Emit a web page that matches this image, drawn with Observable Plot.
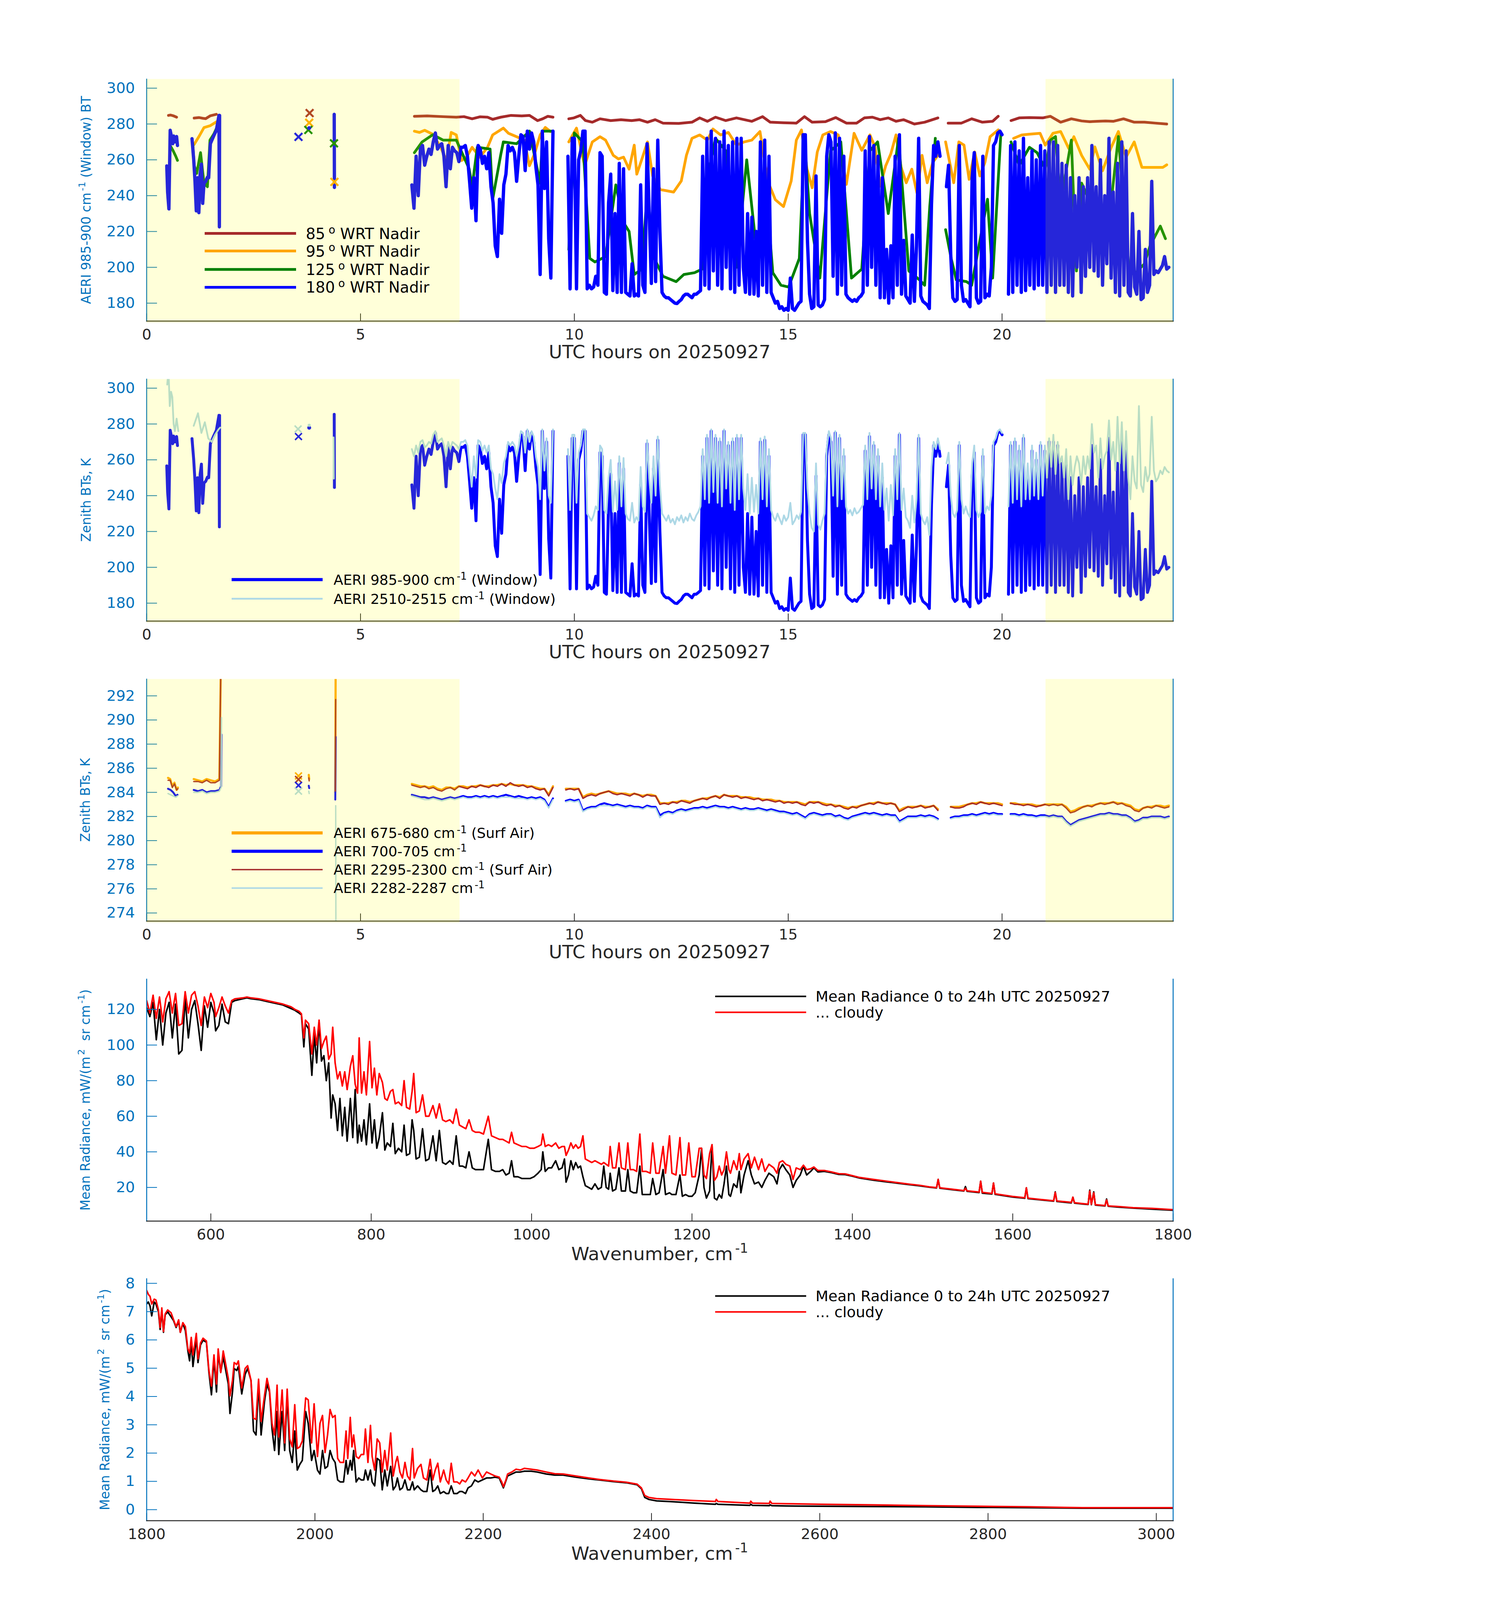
<!DOCTYPE html>
<html><head><meta charset="utf-8">
<script src="https://cdn.jsdelivr.net/npm/d3@7"></script>
<script src="https://cdn.jsdelivr.net/npm/@observablehq/plot@0.6"></script>
<style>
html,body{margin:0;padding:0;background:#fff;overflow:hidden;}
#wrap{position:relative;width:3825px;height:4096px;background:#fff;overflow:hidden;}
</style></head><body><div id="wrap"></div>
<script>
// ---------------- tick labels / domains ----------------
const hourTicks = [0, 5, 10, 15, 20];
const btTicks = [180, 200, 220, 240, 260, 280, 300];
const surfTicks = [274, 276, 278, 280, 282, 284, 286, 288, 290, 292];
const radTicksA = [20, 40, 60, 80, 100, 120];
const wnTicksA = [600, 800, 1000, 1200, 1400, 1600, 1800];
const radTicksB = [0, 1, 2, 3, 4, 5, 6, 7, 8];
const wnTicksB = [1800, 2000, 2200, 2400, 2600, 2800, 3000];
const nightShade = [{start: 0, end: 7.32}, {start: 21.02, end: 24}];

// ---------------- Panel 1: off-zenith views (hour, K) ----------------
const brown85 = [[0.51,284.8],[0.56,285.0],[0.62,284.6],[0.70,283.8],[null],
 [1.11,283.3],[1.22,283.6],[1.31,283.2],[1.38,283.0],[1.49,284.6],[1.63,285.4],[null],
 [6.26,284.3],[6.56,284.5],[6.93,284.1],[7.24,283.8],[7.42,284.1],[7.61,282.9],[7.79,284.0],[7.97,283.8],[8.09,282.6],[8.28,283.8],[8.52,284.8],[8.77,284.5],[8.95,284.8],[9.14,281.9],[9.26,282.9],[9.38,284.3],[9.50,283.8],[null],
 [9.87,282.9],[9.99,283.4],[10.14,284.8],[10.26,281.9],[10.42,281.0],[10.60,282.9],[10.85,281.9],[11.09,282.4],[11.34,281.9],[11.52,282.4],[11.71,281.0],[11.89,282.4],[12.07,280.5],[12.44,280.3],[12.75,281.0],[12.93,283.4],[13.11,281.5],[13.30,283.8],[13.54,281.9],[13.79,283.4],[14.15,281.5],[14.40,284.1],[14.58,281.0],[14.89,280.7],[15.19,280.5],[15.38,284.1],[15.56,281.0],[15.87,281.3],[16.11,283.6],[16.36,280.5],[16.60,280.5],[16.78,283.4],[16.97,283.8],[17.15,282.4],[17.34,283.4],[17.52,281.5],[17.70,282.4],[17.95,280.0],[18.19,281.0],[18.50,283.4],[null],
 [18.74,280.5],[19.05,280.5],[19.29,282.9],[19.54,281.0],[19.78,281.5],[19.91,284.3],[null],
 [20.21,281.9],[20.40,283.4],[20.64,283.6],[20.95,283.4],[21.13,284.3],[21.37,281.0],[21.62,282.9],[21.86,281.7],[22.05,281.3],[22.23,281.5],[22.42,281.7],[22.60,281.5],[22.84,282.9],[23.09,281.0],[23.33,281.0],[23.58,280.5],[23.85,280.0]];
const orange95 = [[1.11,268.6],[1.23,273.3],[1.34,278.0],[1.49,279.1],[1.63,281.2],[null],
 [6.26,276.0],[6.38,275.3],[6.50,276.5],[6.69,274.3],[6.87,267.2],[7.01,259.6],[7.12,275.3],[7.24,273.9],[7.36,259.6],[7.48,261.5],[7.61,267.0],[7.79,261.5],[7.97,267.0],[8.09,273.9],[8.34,277.7],[8.46,274.8],[8.65,272.9],[8.83,271.0],[8.95,256.7],[9.07,263.4],[9.20,273.9],[9.32,278.1],[9.44,275.8],[null],
 [9.87,270.0],[10.05,277.7],[10.24,256.7],[10.42,270.0],[10.60,272.9],[10.73,271.0],[10.91,262.5],[11.03,260.5],[11.15,261.5],[11.28,254.8],[11.40,268.2],[11.46,252.0],[11.58,260.5],[11.71,270.0],[11.83,251.0],[12.01,243.4],[12.32,242.0],[12.50,248.2],[12.62,262.5],[12.75,272.0],[12.93,273.9],[13.11,271.0],[13.24,277.2],[13.42,273.9],[13.60,275.3],[13.79,268.2],[13.97,270.0],[14.15,271.0],[14.34,275.8],[14.52,248.2],[14.70,237.7],[14.89,233.9],[15.07,248.2],[15.19,271.0],[15.31,276.7],[15.44,254.8],[15.56,244.4],[15.68,264.4],[15.81,273.9],[15.99,275.8],[16.17,273.9],[16.36,246.3],[16.54,274.8],[16.72,265.3],[16.91,273.9],[17.03,267.2],[17.15,245.3],[17.28,256.7],[17.40,263.4],[17.52,273.9],[17.64,255.8],[17.76,247.2],[17.89,254.8],[18.01,241.5],[18.13,262.5],[18.25,247.2],[18.38,258.6],[18.50,262.5],[null],
 [18.68,270.0],[18.87,247.2],[18.99,270.0],[19.11,268.2],[19.23,249.1],[19.36,264.4],[19.48,251.0],[19.60,258.6],[19.72,272.9],[19.91,276.7],[null],
 [20.27,272.0],[20.46,273.9],[20.64,274.3],[20.89,274.8],[21.01,268.2],[21.19,274.8],[21.37,275.8],[21.56,266.3],[21.68,272.9],[21.86,262.5],[22.05,254.8],[22.17,267.2],[22.35,253.9],[22.54,266.3],[22.72,275.8],[22.90,261.5],[23.09,270.0],[23.27,255.8],[23.39,255.8],[23.58,255.8],[23.76,255.8],[23.85,257.2]];
const green125 = [[0.55,268],[0.62,265],[0.68,262],[0.72,259.7],[null],
 [1.08,269],[1.11,257],[1.17,252.4],[1.26,264],[1.34,247],[1.42,245],[1.48,271],[1.57,274.4],[1.63,277.5],[null],
 [6.26,264],[6.44,270],[6.69,274],[6.93,271],[7.24,271],[7.54,255],[7.61,245],[7.73,267],[8.03,266],[8.09,238],[8.28,263],[8.34,270],[8.65,269],[8.95,276],[9.14,254],[9.20,247],[9.26,276],[9.50,276],[null],
 [9.87,210],[10.00,275],[10.20,270],[10.36,205],[10.48,203],[10.73,206],[10.97,246],[11.15,225],[11.28,220],[11.40,196],[11.58,199],[11.71,245],[11.83,207],[12.07,195],[12.38,192],[12.56,196],[12.81,197],[12.99,199],[13.11,250],[13.30,272],[13.54,265],[13.79,200],[14.03,260],[14.28,205],[14.46,250],[14.64,197],[14.83,190],[15.01,189],[15.26,205],[15.38,272],[15.50,230],[15.74,194],[15.99,265],[16.23,270],[16.48,194],[16.72,199],[16.91,265],[17.09,270],[17.34,230],[17.58,272],[17.82,198],[18.07,193],[18.19,190],[18.31,234],[18.44,272],[null],
 [18.68,221],[18.81,205],[18.93,193],[19.17,192],[19.29,190],[19.66,238],[19.78,194],[19.97,274],[null],
 [20.21,270],[20.40,257],[20.64,267],[20.82,264],[21.01,255],[21.13,271],[21.25,273],[21.37,236],[21.62,271],[21.74,198],[21.86,247],[21.99,240],[22.23,217],[22.35,218],[22.48,221],[22.72,273],[22.84,236],[22.97,198],[23.09,196],[23.33,202],[23.46,212],[23.70,223],[23.82,216]];
const blue180Early = [[0.47,256.6],[0.49,242],[0.52,232.6],[0.55,276.5],[0.58,273],[0.61,269],[0.63,273.3],[0.66,270],[0.70,273],[0.72,268],[null],
 [1.06,271.8],[1.10,260],[1.13,248],[1.16,231.5],[1.19,250],[1.22,230.5],[1.25,252],[1.28,257.6],[1.31,235.7],[1.34,247],[1.38,248],[1.42,250.3],[1.45,250],[1.49,269],[1.57,273.5],[1.63,276.5],[1.69,284.8],[1.70,222.6],[1.705,284.8],[null],
 [4.385,285.4],[4.39,244.6]];
// 985-900 cm-1 window (zenith) every 0.05 h from 6.20 h
const zenithStart = 6.2, zenithStep = 0.05;
const blue180 = [
 246,233,262,240,266,268,257,262,266,263,270,275,266,268,269,262,
 245,268,255,267,265,264,259,267,267,268,262,248,233,250,226,268,266,258,262,255,
 264,245,236,212,206,238,219,246,252,268,265,267,264,248,262,274,273,254,276,266,
 275,270,256,246,196,276,244,270,216,194,276,null,null,null,null,null,null,262,188,272,
 272,188,260,265,276,276,188,190,188,189,195,190,264,262,186,185,236,252,187,230,
 186,258,186,255,186,185,184,202,184,185,184,246,190,186,269,230,191,255,192,271,
 220,186,184,183,183,182,181,180,179.8,181,182,184,185,185,184,183,185,185,186,187,
 262,190,272,188,276,198,272,190,270,188,276,200,268,188,270,186,272,190,272,200,
 186,230,185,228,185,220,184,270,190,271,186,262,186,183,180,181,177,178,176,177,
 176,194,177,176,178,180,181,274,274,215,185,177,178,251,179,178,179,182,262,274,
 270,195,275,185,272,190,262,185,183,182,181,182,181,183,184,186,265,190,273,200,
 268,190,262,183,250,183,210,180,212,183,262,190,274,185,215,184,182,180,218,181,
 212,272,184,181,180,179,177,235,268,262,270,262,null,null,245,257,207,183,181,182,
 268,190,181,182,180,178,250,264,183,180,181,262,183,185,184,200,268,270,275,276,
 274,null,null,185,268,186,270,190,265,186,272,187,250,190,265,188,260,190,268,190,
 265,186,270,190,270,186,268,190,258,190,257,186,250,184,240,200,250,186,245,195,
 250,200,268,198,245,195,260,190,240,202,272,194,242,186,258,184,270,190,265,186,
 184,230,189,185,220,182,183,210,186,190,248,196,198,197,199,201,206,199,200];
const marks85 = [[3.81,286.1]];
const marks95 = [[3.80,280.7],[4.39,247.7]];
const marks125 = [[3.78,276.7],[4.38,269.2]];
const marks180x = [[3.55,272.8]];
const marks180dot = [[3.80,277.7]];

// ---------------- Panel 2: 2510-2515 cm-1 window ----------------
const lb2510Early = [[0.48,302],[0.51,310],[0.54,290],[0.57,298],[0.60,295],[0.63,280],[0.66,276],[0.70,283],[0.74,276],[null],
 [1.10,279],[1.20,286],[1.28,275],[1.36,281],[1.44,272],[1.52,270],[1.60,274],[1.68,277],[1.72,278],[null],
 [4.37,272.5],[4.375,249.5]];
const lb2510 = [
 266,262,268,264,270,271,267,268,270,269,274,276,270,271,272,268,
 262,270,266,270,269,268,266,270,270,271,268,256,245,262,250,271,270,265,268,264,
 268,255,252,244,238,252,247,258,262,270,268,270,268,262,268,276,275,264,277,270,
 276,273,262,256,238,277,254,272,240,236,277,null,null,null,null,null,null,266,232,274,
 274,236,264,268,277,277,230,228,226,229,234,232,268,266,232,230,250,260,231,248,
 232,262,234,261,230,227,226,236,225,228,226,256,234,231,271,250,236,262,240,273,
 246,230,228,226,229,225,227,224,228,226,229,225,228,226,230,227,226,229,231,234,
 266,238,274,236,277,242,274,236,272,234,277,244,270,236,272,232,274,238,274,244,
 232,252,230,250,231,246,230,272,238,273,234,266,232,228,226,230,227,224,229,226,
 228,236,224,226,229,227,231,275,275,244,230,222,220,258,224,221,226,230,266,276,
 272,240,276,234,274,238,266,234,230,232,229,233,230,231,233,235,268,238,275,244,
 270,238,266,234,258,232,244,226,246,229,266,238,275,232,244,228,226,222,240,225,
 238,274,230,226,224,228,218,256,270,266,272,266,null,null,258,264,240,230,228,232,
 270,238,230,234,230,228,258,268,232,228,231,266,230,234,232,240,270,272,276,277,
 275,null,null,234,270,236,272,238,268,234,274,238,258,238,268,240,264,238,270,240,
 268,250,272,256,274,252,270,258,262,250,266,238,262,246,256,262,258,246,262,252,
 262,255,280,264,268,250,272,255,262,265,282,260,270,254,284,258,281,254,276,250,
 238,262,248,244,290,246,242,256,248,252,284,254,248,250,254,252,256,254,253];
const marks2x = [[3.55,273.0]];
const marks2lbx = [[3.54,277.2]];
const marks2dot = [[3.80,277.9]];
const marks2lbdot = [[3.80,279.3]];

// ---------------- Panel 3: surface-air channels, every 0.1 h from 6.2 h ----------------
const surfStart = 6.2, surfStep = 0.1;
const orange675Early = [[0.50,285.2],[0.55,285.1],[0.60,284.5],[0.65,284.8],[0.70,284.2],[0.73,284.4],[null],
 [1.1,285.1],[1.2,285.0],[1.3,284.9],[1.4,285.1],[1.5,285.0],[1.6,284.9],[1.7,285.1],[1.74,296],[null],
 [3.79,285.45],[3.80,285.1],[null],[4.41,284.0],[4.42,296]];
const orange675 = [284.7,284.6,284.5,284.5,284.4,284.5,284.3,284.2,
 284.4,284.4,284.3,284.5,284.5,284.4,284.5,284.5,284.6,284.5,
 284.5,284.6,284.6,284.7,284.6,284.7,284.6,284.6,284.6,284.5,
 284.5,284.4,284.3,284.3,283.8,284.5,null,null,284.3,284.3,
 284.3,284.3,283.6,283.8,283.9,283.8,283.9,284.0,284.1,284.0,
 283.9,283.9,283.9,283.8,283.9,283.8,283.7,283.8,283.8,283.7,
 283.1,283.1,283.1,283.2,283.2,283.3,283.3,283.2,283.3,283.4,
 283.5,283.5,283.6,283.7,283.6,283.8,283.7,283.7,283.7,283.6,
 283.6,283.6,283.5,283.5,283.4,283.4,283.4,283.3,283.3,283.2,
 283.2,283.2,283.2,283.1,283.0,283.2,283.2,283.2,283.1,283.0,
 283.0,282.9,282.9,282.8,282.7,282.8,282.8,282.9,283.0,283.1,
 283.1,283.2,283.1,283.1,283.1,283.0,282.5,282.7,282.8,282.8,
 282.8,282.9,282.8,282.8,282.9,282.6,null,null,282.8,282.8,
 282.8,282.9,283.0,283.1,283.1,283.2,283.1,283.1,283.1,283.1,
 283.0,null,283.1,283.1,283.0,283.0,283.0,283.0,282.9,282.9,
 283.0,283.0,283.0,283.0,283.0,282.8,282.4,282.5,282.7,282.8,
 282.9,282.9,283.0,283.1,283.1,283.1,283.2,283.1,283.1,283.0,
 282.9,282.6,282.5,282.7,282.8,282.8,282.9,282.9,282.8,282.9];
const blue700Early = [[0.50,284.3],[0.56,284.2],[0.62,284.0],[0.68,283.7],[0.72,283.8],[null],
 [1.1,284.2],[1.2,284.1],[1.3,284.2],[1.4,284.0],[1.5,284.1],[1.6,284.1],[1.7,284.2],[1.74,284.5],[1.75,288.8],[null],
 [3.79,284.55],[3.80,284.35],[null],[4.41,283.4],[4.42,288.6]];
const blue700 = [283.8,283.7,283.6,283.6,283.5,283.6,283.5,283.4,
 283.5,283.6,283.5,283.6,283.7,283.6,283.6,283.7,283.6,283.7,
 283.6,283.7,283.6,283.7,283.8,283.7,283.6,283.7,283.6,283.5,
 283.6,283.5,283.6,283.4,282.8,283.5,null,null,283.3,283.4,
 283.3,283.4,282.5,282.7,282.8,282.8,283.0,283.1,283.0,282.9,
 283.0,282.9,282.8,282.9,282.8,282.8,282.7,282.9,282.8,282.8,
 282.1,282.3,282.4,282.3,282.5,282.6,282.5,282.6,282.7,282.7,
 282.8,282.7,282.8,282.9,282.8,282.8,282.7,282.8,282.7,282.6,
 282.7,282.6,282.6,282.7,282.6,282.5,282.6,282.5,282.4,282.4,
 282.3,282.2,282.3,282.1,281.9,282.2,282.3,282.2,282.1,282.2,
 282.2,282.0,282.1,281.9,281.8,282.0,282.1,282.2,282.3,282.2,
 282.3,282.2,282.1,282.2,282.1,282.1,281.6,281.8,282.0,282.0,
 282.0,282.1,282.0,282.1,282.0,281.8,null,null,281.9,282.0,
 282.0,282.1,282.1,282.2,282.1,282.2,282.3,282.2,282.3,282.2,
 282.2,null,282.2,282.2,282.1,282.2,282.1,282.1,282.0,282.1,
 282.1,282.0,282.1,282.0,282.0,281.6,281.3,281.5,281.7,281.8,
 281.9,282.0,282.1,282.2,282.2,282.3,282.2,282.2,282.1,282.1,
 281.9,281.6,281.7,281.9,281.9,282.0,282.0,282.0,281.9,282.0];
const brown2295Early = [[0.50,285.0],[0.55,285.0],[0.60,284.4],[0.65,284.7],[0.70,284.2],[0.73,284.3],[null],
 [1.1,284.9],[1.2,284.9],[1.3,284.8],[1.4,285.0],[1.5,284.8],[1.6,284.8],[1.7,285.0],[1.74,296],[null],
 [3.79,285.2],[3.80,284.95],[null],[4.41,284.1],[4.42,291.7]];
const brown2295 = [284.6,284.5,284.4,284.5,284.3,284.4,284.2,284.1,
 284.3,284.4,284.2,284.5,284.4,284.3,284.5,284.4,284.6,284.5,
 284.4,284.6,284.5,284.7,284.5,284.8,284.6,284.5,284.6,284.4,
 284.5,284.3,284.2,284.3,283.7,284.4,null,null,284.2,284.3,
 284.2,284.3,283.5,283.7,283.8,283.7,283.9,284.0,284.1,283.9,
 283.8,283.9,283.8,283.7,283.9,283.8,283.6,283.8,283.7,283.7,
 283.0,283.1,283.0,283.2,283.1,283.3,283.2,283.1,283.3,283.4,
 283.5,283.4,283.6,283.7,283.5,283.8,283.7,283.6,283.7,283.5,
 283.6,283.5,283.4,283.5,283.3,283.4,283.3,283.2,283.3,283.1,
 283.2,283.1,283.2,283.0,282.9,283.2,283.1,283.2,283.0,282.9,
 283.0,282.8,282.9,282.7,282.6,282.8,282.7,282.9,283.0,283.1,
 283.0,283.2,283.1,283.0,283.1,283.0,282.4,282.6,282.8,282.7,
 282.8,282.9,282.7,282.8,282.9,282.5,null,null,282.8,282.7,
 282.7,282.8,283.0,283.1,283.0,283.2,283.1,283.0,283.1,283.0,
 282.9,null,283.1,283.0,283.0,282.9,283.0,282.9,282.8,282.9,
 283.0,282.9,283.0,282.9,283.0,282.7,282.3,282.4,282.6,282.8,
 282.9,282.8,283.0,283.1,283.0,283.1,283.2,283.0,283.1,282.9,
 282.8,282.5,282.4,282.7,282.8,282.7,282.9,282.8,282.7,282.8];
const lb2282Early = [[0.50,283.9],[0.56,283.8],[0.62,283.7],[0.68,283.6],[0.72,283.7],[null],
 [1.1,284.0],[1.2,284.0],[1.3,284.1],[1.4,283.9],[1.5,284.0],[1.6,284.0],[1.7,284.1],[1.74,284.4],[1.75,290.2],[null],
 [3.79,284.1],[3.80,283.9],[null],[4.42,282.9],[4.425,272]];
const lb2282 = [283.7,283.6,283.5,283.4,283.4,283.5,283.4,283.3,
 283.4,283.5,283.4,283.5,283.6,283.5,283.5,283.6,283.5,283.6,
 283.5,283.6,283.5,283.6,283.6,283.6,283.5,283.5,283.5,283.4,
 283.5,283.4,283.5,283.3,282.7,283.4,null,null,283.2,283.3,
 283.2,283.3,282.4,282.6,282.7,282.7,282.9,282.9,282.9,282.8,
 282.9,282.8,282.7,282.8,282.7,282.7,282.6,282.8,282.7,282.7,
 281.9,282.2,282.3,282.2,282.4,282.5,282.4,282.5,282.6,282.6,
 282.7,282.6,282.7,282.8,282.7,282.7,282.6,282.7,282.6,282.5,
 282.6,282.5,282.5,282.6,282.5,282.4,282.5,282.4,282.3,282.3,
 282.2,282.1,282.2,282.0,281.8,282.1,282.2,282.1,282.0,282.1,
 282.1,281.9,282.0,281.8,281.7,281.9,282.0,282.1,282.2,282.1,
 282.2,282.1,282.0,282.1,282.0,282.0,281.5,281.7,281.9,281.9,
 281.9,282.0,281.9,282.0,281.9,281.7,null,null,281.8,281.9,
 281.9,282.0,282.0,282.1,282.0,282.1,282.2,282.1,282.2,282.1,
 282.1,null,282.1,282.1,282.0,282.1,282.0,282.0,281.9,282.0,
 282.0,281.9,282.0,281.9,281.9,281.5,281.2,281.4,281.6,281.7,
 281.8,281.9,282.0,282.1,282.1,282.2,282.1,282.1,282.0,282.0,
 281.8,281.5,281.6,281.8,281.8,281.9,281.9,281.9,281.8,281.9];
const marks3orange = [[3.55,285.36]];
const marks3brown = [[3.55,285.07]];
const marks3blue = [[3.55,284.58]];
const marks3lb = [[3.55,284.1]];

// ---------------- Panel 4: mean radiance 520-1800 cm-1 ----------------
const wnA = [520,524,528,532,536,540,544,548,552,556,560,564,568,572,576,580,584,588,592,596,600,604,606,610,614,618,622,626,630,640,645,650,660,670,680,690,700,705,710,713,716,718,722,726,729,732,735,738,741,744,747,750,752,755,758,761,764,767,770,774,777,780,783,785,788,791,794,798,801,804,807,810,814,817,820,824,827,830,834,838,841,844,848,851,853,856,860,864,868,872,877,881,885,889,893,898,902,906,910,914,918,922,926,930,935,940,946,950,955,960,964,968,972,975,978,983,988,993,998,1003,1008,1012,1014,1017,1021,1025,1030,1034,1038,1041,1043,1046,1049,1052,1055,1058,1061,1064,1067,1071,1075,1079,1083,1087,1090,1093,1096,1098,1101,1105,1109,1112,1117,1120,1123,1127,1131,1135,1138,1143,1148,1151,1155,1159,1164,1167,1172,1175,1180,1185,1188,1192,1196,1200,1204,1209,1212,1215,1218,1222,1225,1228,1231,1234,1237,1240,1243,1246,1248,1252,1256,1259,1261,1265,1270,1274,1278,1283,1287,1291,1296,1302,1306,1309,1313,1317,1322,1326,1330,1335,1339,1343,1348,1352,1357,1365,1374,1383,1391,1400,1409,1426,1443,1456,1470,1484,1496,1505,1507,1509,1525,1539,1541,1543,1558,1560,1562,1574,1576,1578,1600,1615,1617,1619,1635,1651,1653,1655,1673,1675,1677,1687,1694,1696,1698,1701,1703,1715,1717,1719,1730,1750,1774,1800];
const meanA = [121,116,124,103,120,100,118,124,104,123,95,97,126,104,120,125,112,97,122,110,124,118,108,111,123,113,112,124,125,126,126.5,126,125.5,124.5,123.5,122.5,120.5,119.5,118,117,99,112,109,83,106,90,113,91,94,80,90,59,72,67,52,70,49,65,46,70,48,75,45,55,46,58,44,67,45,58,42,48,62,41,45,43,56,39,42,40,55,38,39,58,52,36,37,53,35,36,49,35,52,34,33,35,33,49,32,32,31,40,31,30,30,30,47,30,29,29,30,27,28,35,26,26,25,25,25,26,28,30,40,29,31,31,35,30,31,36,23,27,35,30,34,31,32,26,21,20,19,22,19,20,32,20,19,28,18,19,31,18,18,30,18,17,17,32,16,16,16,25,16,17,30,16,17,16,16,27,15,16,15,15,17,27,42,20,14,18,44,14,13,16,14,22,32,16,15,22,20,29,17,27,35,27,22,23,20,24,28,26,22,30,33,30,27,20,24,27,32,27,29,31,28.7,29,28.3,27.3,27.2,26.3,25.3,24.1,23.1,22.4,21.6,20.9,20.1,19.7,24.5,19.6,18.7,18.0,20.5,17.8,17.1,23.5,16.8,16.3,22.5,16.1,14.6,13.9,19.8,13.7,13.0,12.3,17.5,12.1,11.3,14.5,11.2,10.7,10.4,18.5,10.3,17.5,10.1,9.6,13.5,9.4,9.0,8.4,7.8,7.2];
const cloudyA = [125,118,128,115,127,113,126,130,118,129,111,112,130,118,128,130,122,111,127,121,129,124,116,121,127,122,118,125,126,126.5,127,126.5,126,125,124,123,121.5,120,119,117.5,104,114,112,95,110,100,114,98,102,105,92,95,110,90,81,85,77,85,75,88,94,78,73,104,73,85,72,102,76,87,72,84,79,70,69,74,75,67,68,66,80,65,64,74,84,62,63,72,60,60,66,59,67,58,57,58,56,64,55,54,53,58,52,51,51,50,60,49,48,47,47,46,45,51,45,44,43,43,42,42,43,44,50,43,44,43,45,42,43,43,38,41,45,42,44,42,43,49,36,35,34,35,34,33,34,33,32,43,31,31,45,31,30,45,30,30,29,50,29,29,28,45,28,28,43,28,49,28,27,48,27,27,45,26,26,42,42,27,25,39,44,24,26,32,27,30,40,30,28,35,30,39,30,36,39,31,37,30,36,29,33,31,28,34,35,33,32,24.5,31,30,32.5,30,30.5,31.5,29.5,29.5,28.7,27.7,27.6,26.6,25.6,24.5,23.5,22.7,21.9,21.2,20.3,19.9,24.5,19.8,19.0,18.2,19.5,18.1,17.4,23.5,17.2,16.6,22.5,16.4,14.9,14.2,19.8,14.0,13.2,12.5,17.2,12.4,11.6,14.5,11.4,10.9,10.6,18.0,10.5,17.0,10.3,9.8,13.0,9.6,9.3,8.6,8.2,7.5];

// ---------------- Panel 5: mean radiance 1800-3020 cm-1 ----------------
const wnB = [1800,1802,1804,1806,1809,1811,1814,1816,1818,1820,1822,1825,1829,1832,1835,1838,1840,1843,1846,1849,1851,1853,1855,1857,1859,1861,1864,1867,1871,1874,1877,1880,1883,1885,1888,1891,1894,1897,1899,1902,1904,1907,1909,1913,1917,1920,1924,1927,1930,1933,1936,1940,1943,1946,1949,1952,1955,1957,1961,1964,1967,1970,1973,1976,1979,1982,1985,1989,1992,1996,1999,2003,2006,2009,2012,2015,2018,2021,2024,2027,2030,2034,2037,2039,2042,2044,2046,2049,2052,2055,2058,2060,2063,2066,2068,2071,2074,2077,2080,2083,2086,2090,2093,2096,2098,2101,2104,2107,2110,2113,2116,2118,2122,2126,2129,2133,2137,2140,2143,2146,2149,2153,2156,2159,2162,2165,2169,2172,2175,2179,2182,2186,2190,2194,2199,2204,2209,2214,2219,2222,2224,2227,2229,2234,2239,2244,2249,2257,2264,2275,2285,2295,2310,2325,2340,2355,2370,2383,2388,2392,2397,2406,2426,2451,2476,2477,2479,2517,2518,2520,2540,2541,2543,2560,2602,2664,2726,2788,2850,2912,2954,3020];
const meanB = [7.27,7.34,7.20,6.85,7.34,7.27,6.99,6.37,7.06,6.27,6.89,6.99,6.82,6.68,6.44,6.65,6.27,6.58,6.33,5.61,5.26,5.96,5.06,5.54,6.09,5.20,5.82,5.99,5.92,4.85,4.06,5.33,4.16,5.54,4.85,5.40,4.92,4.44,3.40,4.16,4.99,4.92,5.06,4.09,4.78,4.99,4.57,2.78,2.64,4.44,2.64,3.81,4.44,4.16,2.85,2.09,3.47,1.95,3.47,2.09,4.02,2.09,1.67,2.78,1.40,1.60,1.74,3.47,3.05,1.74,2.09,1.40,1.26,2.09,1.46,1.53,2.09,1.81,1.67,1.05,0.98,0.98,1.74,1.26,1.74,1.40,2.09,0.98,1.12,1.05,1.05,1.40,1.05,1.40,0.98,0.84,1.81,1.74,0.70,1.40,0.84,1.53,0.70,0.84,1.12,0.70,0.77,1.05,0.70,0.70,0.98,0.70,0.84,0.70,0.64,0.64,1.40,0.64,0.70,0.84,0.57,0.64,0.57,0.57,0.84,0.57,0.57,0.64,0.64,0.57,0.77,0.84,1.05,0.98,1.05,1.12,1.12,1.15,1.12,0.91,0.77,1.02,1.19,1.26,1.33,1.33,1.36,1.36,1.33,1.26,1.22,1.22,1.15,1.09,1.04,0.99,0.95,0.88,0.74,0.43,0.36,0.31,0.28,0.23,0.19,0.22,0.19,0.15,0.19,0.15,0.14,0.17,0.14,0.13,0.12,0.11,0.10,0.08,0.07,0.05,0.05,0.05];
const cloudyB = [7.75,7.61,7.54,7.27,7.44,7.41,7.06,6.44,7.13,6.30,6.92,7.06,6.96,6.71,6.47,6.71,6.27,6.61,6.47,5.68,5.54,6.09,5.47,5.82,6.23,5.33,5.89,6.06,5.96,4.92,4.37,5.47,4.44,5.68,4.85,5.61,5.13,4.64,4.02,4.57,5.20,5.13,5.26,4.30,4.99,5.09,4.57,3.23,3.19,4.61,3.12,4.02,4.64,4.23,3.05,2.64,4.40,2.57,4.23,2.36,4.26,2.50,2.22,3.71,2.16,2.22,2.43,3.95,3.88,2.36,3.74,1.88,3.05,3.33,2.02,2.64,3.54,3.26,3.33,1.81,1.67,1.67,2.78,1.81,3.26,2.22,2.64,1.88,1.81,1.95,1.95,2.85,1.67,2.98,1.88,1.40,2.50,2.36,1.33,2.09,1.40,2.71,1.19,1.67,1.88,1.33,1.12,1.67,1.19,1.05,2.16,1.12,1.46,1.60,1.12,1.05,1.78,1.05,1.40,1.64,0.98,1.40,1.05,0.91,1.64,0.98,0.98,0.91,1.05,0.98,1.12,1.33,1.19,1.40,1.12,1.33,1.26,1.19,1.15,0.98,0.81,1.05,1.26,1.33,1.43,1.40,1.46,1.43,1.40,1.33,1.27,1.26,1.19,1.12,1.06,1.01,0.97,0.90,0.77,0.50,0.43,0.39,0.36,0.32,0.29,0.36,0.29,0.23,0.30,0.23,0.22,0.30,0.22,0.21,0.19,0.17,0.14,0.12,0.10,0.07,0.07,0.07];

// ---------------- helpers ----------------
const BREAK = {x: NaN, y: NaN};
const fromPairs = arr => arr.map(p => ({x: p[0] == null ? NaN : p[0], y: p[1] == null ? NaN : p[1]}));
const fromGrid = (t0, dt, vals) => vals.map((v, i) => ({x: Math.round((t0 + i * dt) * 1000) / 1000, y: v == null ? NaN : v}));
const joinSegs = (...parts) => parts.flatMap((p, i) => i ? [BREAK, ...p] : p);
const zip = (xs, ys) => xs.map((x, i) => ({x, y: ys[i]}));

function rich(t, parts, fs, rise = 0.42) {
  let raised = false;
  for (const p of parts) {
    if (typeof p === "string") {
      const s = t.append("tspan").text(p);
      if (raised) { s.attr("dy", (rise * fs).toFixed(1)); raised = false; }
    } else {
      t.append("tspan").attr("dx", ((p.dx ?? 0.12) * fs).toFixed(1)).attr("dy", (-rise * fs).toFixed(1))
        .attr("font-size", (0.72 * fs).toFixed(1)).text(p.sup);
      raised = true;
    }
  }
}

// The window is 4096 px tall, so the 6000 px layout is compressed vertically by K.
const K = 4096 / 6000;
const W = 3825, ML = 375, MR = 822, PW = W - ML - MR;
const H = 1125 * K, MT = 100 * K, PH = 907 * K, MB = H - MT - PH;
const FONT = "DejaVu Sans";
const TICK_FS = 38, XLABEL_FS = 47, YLABEL_FS = 33;

function panel(cfg) {
  const marks = [];
  for (const s of cfg.series) marks.push(Plot.line(s.data, {x: "x", y: "y", stroke: s.color, strokeWidth: s.width, clip: true}));
  for (const m of (cfg.markers || [])) {
    const isX = m.symbol === "times";
    marks.push(Plot.dot(m.data, {x: "x", y: "y", symbol: m.symbol, r: m.r,
      stroke: isX ? m.color : "none", fill: isX ? "none" : m.color, strokeWidth: m.sw || 4, clip: true}));
  }
  marks.push(
    Plot.tickY(cfg.yTicks, {y: d => d, stroke: "#0072BD", strokeWidth: 2, insetRight: PW - 27}),
    Plot.tickX(cfg.xTicks, {x: d => d, stroke: "#262626", strokeWidth: 2, insetTop: PH - 19}),
    Plot.axisY({ticks: cfg.yTicks, tickSize: 0, tickPadding: 30, fontSize: TICK_FS, color: "#0072BD", label: null, tickFormat: d => String(d)}),
    Plot.axisX({ticks: cfg.xTicks, tickSize: 0, tickPadding: 20, fontSize: TICK_FS, color: "#262626", label: null, tickFormat: d => String(d)}),
    Plot.frame({anchor: "left", stroke: "#0072BD", strokeWidth: 2.5}),
    Plot.frame({anchor: "right", stroke: "#0072BD", strokeWidth: 2.5}),
    Plot.frame({anchor: "bottom", stroke: "#262626", strokeWidth: 2.5})
  );
  if (cfg.shade) marks.push(Plot.rect(nightShade, {x1: "start", x2: "end", fill: "#ffff00", fillOpacity: 0.15, insetBottom: -5}));
  const svg = Plot.plot({
    width: W, height: H, marginTop: MT, marginBottom: MB, marginLeft: ML, marginRight: MR,
    x: {domain: cfg.xDomain}, y: {domain: cfg.yDomain},
    style: {position: "absolute", left: "0px", top: (cfg.top * K) + "px", overflow: "visible", background: "none", fontFamily: FONT, maxWidth: "none"},
    marks
  });
  const s = d3.select(svg);
  const yl = s.append("text").attr("transform", `translate(${cfg.ylabX},${MT + PH / 2}) rotate(-90)`)
    .attr("text-anchor", "middle").attr("font-family", FONT).attr("font-size", YLABEL_FS).attr("fill", "#0072BD").style("white-space", "pre");
  rich(yl, cfg.ylabel, YLABEL_FS);
  const xl = s.append("text").attr("x", ML + PW / 2).attr("y", MT + PH + cfg.xlabDy)
    .attr("text-anchor", "middle").attr("font-family", FONT).attr("font-size", XLABEL_FS).attr("fill", "#262626").style("white-space", "pre");
  rich(xl, cfg.xlabel, XLABEL_FS);
  const lg = cfg.legend;
  lg.items.forEach((it, i) => {
    const y = lg.rows[i] * K;
    s.append("line").attr("x1", lg.x1).attr("x2", lg.x2).attr("y1", y).attr("y2", y).attr("stroke", it.color).attr("stroke-width", it.w);
    const t = s.append("text").attr("x", lg.tx).attr("y", y + 0.36 * lg.fs).attr("text-anchor", "start")
      .attr("font-family", FONT).attr("font-size", lg.fs).attr("fill", "#000").style("white-space", "pre");
    rich(t, it.label, lg.fs, lg.rise ?? 0.42);
  });
  document.getElementById("wrap").appendChild(svg);
}

const zenith = joinSegs(fromPairs(blue180Early), fromGrid(zenithStart, zenithStep, blue180));
const timeLabel = ["UTC hours on 20250927"];
const radLabel = ["Mean Radiance, mW/(m", {sup: "2"}, "  sr cm", {sup: "-1"}, ")"];
const wnLabel = ["Wavenumber, cm", {sup: "-1"}];

// Panel 1
panel({
  top: 196, xDomain: [0, 24], yDomain: [170, 305], xTicks: hourTicks, yTicks: btTicks, shade: true,
  series: [
    {data: fromPairs(brown85), color: "#a52a2a", width: 7},
    {data: fromPairs(orange95), color: "#ffa500", width: 7},
    {data: fromPairs(green125), color: "#008000", width: 7},
    {data: zenith, color: "#0000ff", width: 8.5}
  ],
  markers: [
    {data: fromPairs(marks85), symbol: "times", color: "#a52a2a", r: 9, sw: 5},
    {data: fromPairs(marks95), symbol: "times", color: "#ffa500", r: 9, sw: 5},
    {data: fromPairs(marks125), symbol: "times", color: "#008000", r: 9, sw: 5},
    {data: fromPairs(marks180x), symbol: "times", color: "#0000ff", r: 9, sw: 5},
    {data: fromPairs(marks180dot), symbol: "circle", color: "#0000ff", r: 5}
  ],
  ylabX: 232, ylabel: ["AERI 985-900 cm", {sup: "-1"}, " (Window) BT"], xlabDy: 96, xlabel: timeLabel,
  legend: {x1: 524, x2: 758, tx: 783, fs: 39, rise: 0.36, rows: [679, 745, 814, 881], items: [
    {label: ["85", {sup: "o", dx: 0.22}, " WRT Nadir"], color: "#a52a2a", w: 7},
    {label: ["95", {sup: "o", dx: 0.22}, " WRT Nadir"], color: "#ffa500", w: 7},
    {label: ["125", {sup: "o", dx: 0.22}, " WRT Nadir"], color: "#008000", w: 7},
    {label: ["180", {sup: "o", dx: 0.22}, " WRT Nadir"], color: "#0000ff", w: 7}
  ]}
});

// Panel 2
panel({
  top: 1321, xDomain: [0, 24], yDomain: [170, 305], xTicks: hourTicks, yTicks: btTicks, shade: true,
  series: [
    {data: zenith, color: "#0000ff", width: 7.5},
    {data: joinSegs(fromPairs(lb2510Early), fromGrid(zenithStart, zenithStep, lb2510)), color: "#add8e6", width: 4.5}
  ],
  markers: [
    {data: fromPairs(marks2x), symbol: "times", color: "#0000ff", r: 8, sw: 4},
    {data: fromPairs(marks2lbx), symbol: "times", color: "#add8e6", r: 8, sw: 4},
    {data: fromPairs(marks2dot), symbol: "circle", color: "#0000ff", r: 5},
    {data: fromPairs(marks2lbdot), symbol: "circle", color: "#add8e6", r: 4}
  ],
  ylabX: 232, ylabel: ["Zenith BTs, K"], xlabDy: 96, xlabel: timeLabel,
  legend: {x1: 593, x2: 826, tx: 854, fs: 36, rise: 0.34, rows: [852, 924], items: [
    {label: ["AERI 985-900 cm", {sup: "-1"}, " (Window)"], color: "#0000ff", w: 8},
    {label: ["AERI 2510-2515 cm", {sup: "-1"}, " (Window)"], color: "#add8e6", w: 4.5}
  ]}
});

// Panel 3
panel({
  top: 2446, xDomain: [0, 24], yDomain: [273.33, 293.38], xTicks: hourTicks, yTicks: surfTicks, shade: true,
  series: [
    {data: joinSegs(fromPairs(orange675Early), fromGrid(surfStart, surfStep, orange675)), color: "#ffa500", width: 5.5},
    {data: joinSegs(fromPairs(blue700Early), fromGrid(surfStart, surfStep, blue700)), color: "#0000ff", width: 5},
    {data: joinSegs(fromPairs(brown2295Early), fromGrid(surfStart, surfStep, brown2295)), color: "#a52a2a", width: 3.5},
    {data: joinSegs(fromPairs(lb2282Early), fromGrid(surfStart, surfStep, lb2282)), color: "#add8e6", width: 3.5}
  ],
  markers: [
    {data: fromPairs(marks3orange), symbol: "times", color: "#ffa500", r: 8, sw: 4},
    {data: fromPairs(marks3brown), symbol: "times", color: "#a52a2a", r: 8, sw: 4},
    {data: fromPairs(marks3blue), symbol: "times", color: "#0000ff", r: 8, sw: 4},
    {data: fromPairs(marks3lb), symbol: "times", color: "#add8e6", r: 8, sw: 4}
  ],
  ylabX: 230, ylabel: ["Zenith BTs, K"], xlabDy: 96, xlabel: timeLabel,
  legend: {x1: 593, x2: 826, tx: 854, fs: 36, rise: 0.34, rows: [677, 746, 815, 884], items: [
    {label: ["AERI 675-680 cm", {sup: "-1"}, " (Surf Air)"], color: "#ffa500", w: 8},
    {label: ["AERI 700-705 cm", {sup: "-1"}], color: "#0000ff", w: 8},
    {label: ["AERI 2295-2300 cm", {sup: "-1"}, " (Surf Air)"], color: "#a52a2a", w: 3.5},
    {label: ["AERI 2282-2287 cm", {sup: "-1"}], color: "#add8e6", w: 4}
  ]}
});

// Panel 4
panel({
  top: 3571, xDomain: [520, 1800], yDomain: [1.1, 137], xTicks: wnTicksA, yTicks: radTicksA, shade: false,
  series: [
    {data: zip(wnA, meanA), color: "#000000", width: 4},
    {data: zip(wnA, cloudyA), color: "#ff0000", width: 4}
  ],
  ylabX: 230, ylabel: radLabel, xlabDy: 101, xlabel: wnLabel,
  legend: {x1: 1831, x2: 2064, tx: 2088, fs: 38, rows: [165, 225], items: [
    {label: ["Mean Radiance 0 to 24h UTC 20250927"], color: "#000000", w: 4},
    {label: ["... cloudy"], color: "#ff0000", w: 4}
  ]}
});

// Panel 5
panel({
  top: 4695, xDomain: [1800, 3020], yDomain: [-0.39, 8.16], xTicks: wnTicksB, yTicks: radTicksB, shade: false,
  series: [
    {data: zip(wnB, meanB), color: "#000000", width: 4},
    {data: zip(wnB, cloudyB), color: "#ff0000", width: 4}
  ],
  ylabX: 280, ylabel: radLabel, xlabDy: 101, xlabel: wnLabel,
  legend: {x1: 1831, x2: 2064, tx: 2088, fs: 38, rows: [165, 225], items: [
    {label: ["Mean Radiance 0 to 24h UTC 20250927"], color: "#000000", w: 4},
    {label: ["... cloudy"], color: "#ff0000", w: 4}
  ]}
});
</script></body></html>
